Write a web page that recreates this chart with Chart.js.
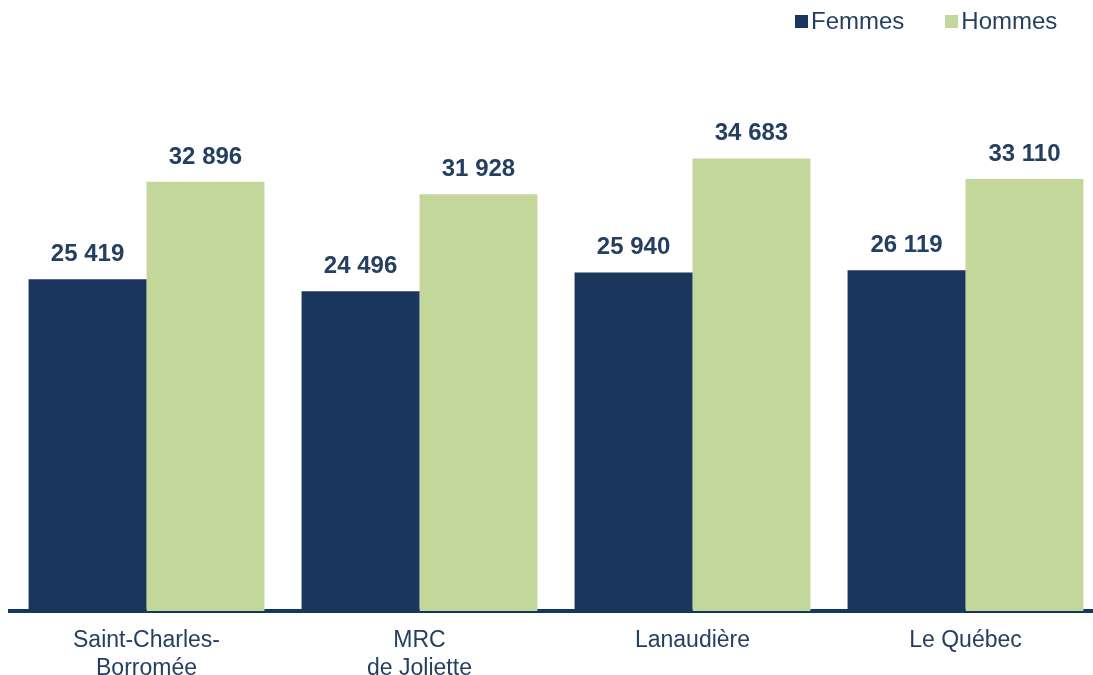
<!DOCTYPE html>
<html>
<head>
<meta charset="utf-8">
<script src="https://cdn.jsdelivr.net/npm/chart.js@4.4.0/dist/chart.umd.min.js"></script>
<style>
  html, body { margin: 0; padding: 0; background: #ffffff; overflow: hidden; }
  #wrap { position: relative; width: 1102px; height: 675px; }
  #legend { position: absolute; top: 7px; left: 795px; font-family: Arial, "Liberation Sans", sans-serif;
            font-size: 24px; color: #243f60; white-space: nowrap; }
  .item { display: inline-block; margin-right: 41px; }
  .box { display: inline-block; width: 13px; height: 13px; margin-right: 3px; vertical-align: 1px; }
</style>
</head>
<body>
<div id="wrap">
  <canvas id="incomeChart" width="1102" height="675"></canvas>
  <div id="legend"></div>
</div>
<script>
// Chart data
const regions = [["Saint-Charles-", "Borromée"], ["MRC", "de Joliette"], "Lanaudière", "Le Québec"];
const femmes = [25419, 24496, 25940, 26119];
const hommes = [32896, 31928, 34683, 33110];
const seriesNames = ["Femmes", "Hommes"];
const seriesColors = ["#1b365d", "#c4d79b"];

const textColor = "#243f60";

// Format numbers with a space as thousands separator
function formatNumber(v) {
    return String(v).replace(/\B(?=(\d{3})+(?!\d))/g, " ");
}

// Plugin to draw value labels above each bar
const valueLabels = {
    id: "valueLabels",
    afterDatasetsDraw(chart) {
        const ctx = chart.ctx;
        ctx.save();
        ctx.font = "bold 24px Arial, 'Liberation Sans', sans-serif";
        ctx.fillStyle = textColor;
        ctx.textAlign = "center";
        ctx.textBaseline = "alphabetic";
        chart.data.datasets.forEach((ds, i) => {
            chart.getDatasetMeta(i).data.forEach((bar, j) => {
                ctx.fillText(formatNumber(ds.data[j]), bar.x, bar.y - 18);
            });
        });
        ctx.restore();
    }
};

// Build legend from series names and colours
const legendEl = document.getElementById("legend");
seriesNames.forEach((name, i) => {
    const item = document.createElement("span");
    item.className = "item";
    const box = document.createElement("span");
    box.className = "box";
    box.style.background = seriesColors[i];
    item.appendChild(box);
    item.appendChild(document.createTextNode(name));
    legendEl.appendChild(item);
});

const ctx = document.getElementById("incomeChart").getContext("2d");
new Chart(ctx, {
    type: "bar",
    data: {
        labels: regions,
        datasets: [
            { label: seriesNames[0], data: femmes, backgroundColor: seriesColors[0] },
            { label: seriesNames[1], data: hommes, backgroundColor: seriesColors[1] }
        ]
    },
    options: {
        responsive: false,
        animation: false,
        devicePixelRatio: 1,
        layout: { padding: { top: 89, left: 10, right: 0, bottom: 0 } },
        categoryPercentage: 0.864,
        barPercentage: 1.0,
        plugins: {
            legend: { display: false },
            tooltip: { enabled: false }
        },
        scales: {
            x: {
                grid: { display: false, drawTicks: false },
                border: { display: true, color: "#11395f", width: 4 },
                ticks: {
                    color: textColor,
                    padding: 16,
                    font: { family: "Arial, 'Liberation Sans', sans-serif", size: 23, lineHeight: 1.2 }
                },
                afterFit: (scale) => { scale.height = 64; }
            },
            y: {
                display: false,
                min: 0,
                max: 40000
            }
        }
    },
    plugins: [valueLabels]
});
</script>
</body>
</html>
